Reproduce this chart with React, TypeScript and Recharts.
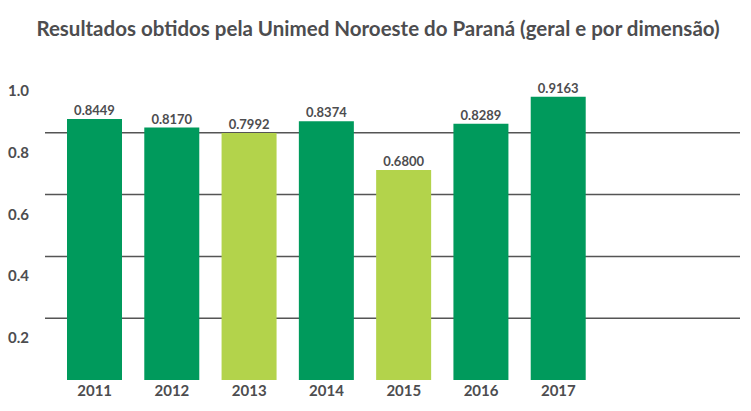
import React from 'react';
import { BarChart, Bar, XAxis, YAxis, CartesianGrid, LabelList, Cell } from 'recharts';

const years = ['2011', '2012', '2013', '2014', '2015', '2016', '2017'];
const values = [0.8449, 0.817, 0.7992, 0.8374, 0.68, 0.8289, 0.9163];
const light = [false, false, true, false, true, false, false];
const yTicks = [0.2, 0.4, 0.6, 0.8, 1.0];

const data = years.map((y, i) => ({ year: y, value: values[i], light: light[i] }));

const YTick = (p: any) => (
  <text x={8} y={p.y + 20} dy={5} textAnchor="start" fill="#4d4d4f" fontSize={15} fontWeight={700} fontFamily="Lato">
    {p.payload.value.toFixed(1)}
  </text>
);

export default function App() {
  return (
    <div style={{ position: 'absolute', left: 0, top: 0, width: 751, height: 411, background: '#fff', fontFamily: 'Lato' }}>
      <div style={{ position: 'absolute', top: 16, left: 0, width: 756, textAlign: 'center', fontSize: 20.5, fontWeight: 700, color: '#4d4d4f' }}>
        Resultados obtidos pela Unimed Noroeste do Paraná (geral e por dimensão)
      </div>
      <BarChart width={751} height={411} data={data} margin={{ top: 71, right: 11, bottom: 11, left: 0 }}>
        <CartesianGrid vertical={false} horizontal stroke="#555" strokeWidth={1.5} horizontalValues={[0.2, 0.4, 0.6, 0.8]} />
        <YAxis width={45} domain={[0, 1]} ticks={yTicks} axisLine={false} tickLine={false} tick={<YTick />} />
        <XAxis dataKey="year" height={20} axisLine={false} tickLine={false} padding={{ left: 11, right: 143 }}
          tick={{ fill: '#4d4d4f', fontSize: 15, fontWeight: 700 }} dy={-3} />
        <Bar dataKey="value" barSize={55} isAnimationActive={false}>
          {data.map((d, i) => <Cell key={i} fill={d.light ? '#b3d34b' : '#009a5c'} />)}
          <LabelList dataKey="value" position="top" offset={4} formatter={(v: any) => Number(v).toFixed(4)}
            style={{ fill: '#4d4d4f', fontSize: 13, fontWeight: 700 }} />
        </Bar>
      </BarChart>
    </div>
  );
}
